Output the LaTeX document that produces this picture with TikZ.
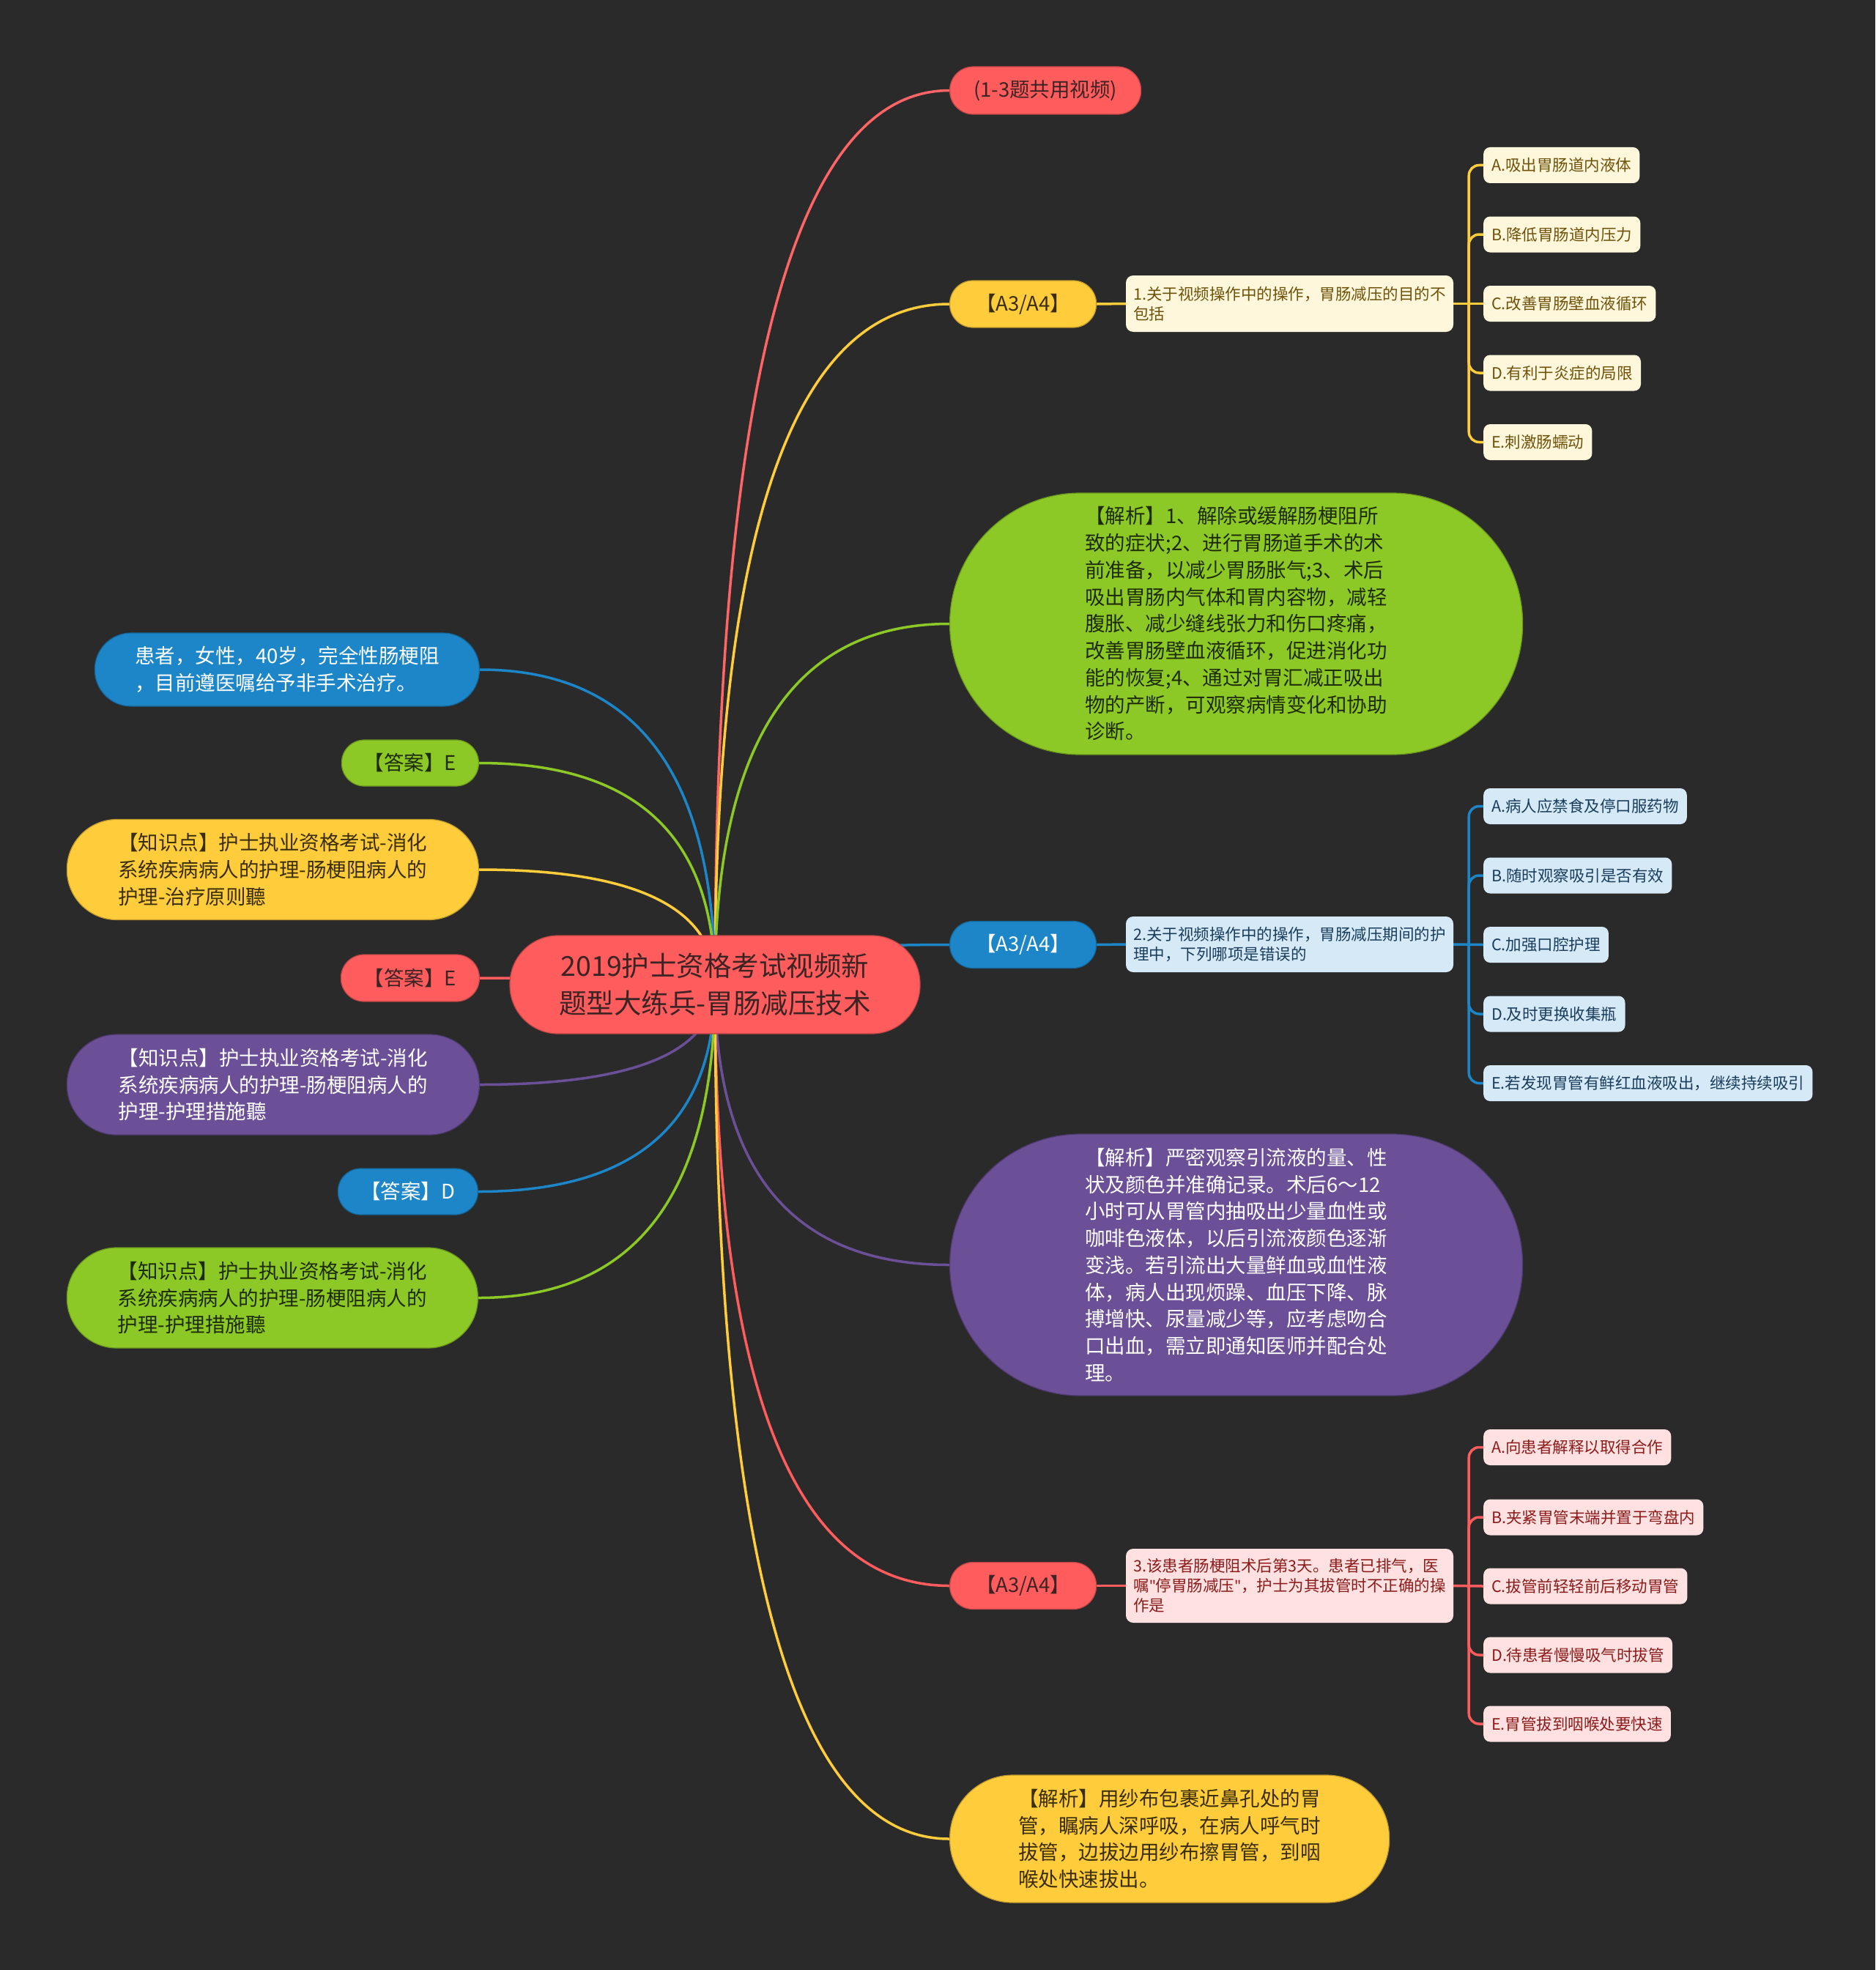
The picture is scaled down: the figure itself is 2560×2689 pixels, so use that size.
\documentclass[tikz,border=0pt]{standalone}
\usepackage{fontspec}
\setmainfont{Noto Sans CJK SC}
\newfontfamily\latinf{Noto Sans}
\usetikzlibrary{calc}
\pgfdeclarelayer{bg}
\pgfdeclarelayer{lines}
\pgfsetlayers{bg,lines,main}
\definecolor{bgc}{HTML}{2A2A2A}
\definecolor{cred}{HTML}{FF5C5E}
\definecolor{cyel}{HTML}{FFCC3B}
\definecolor{cgrn}{HTML}{8DC926}
\definecolor{cblu}{HTML}{1C86C9}
\definecolor{cpur}{HTML}{6B4F97}
\definecolor{lyel}{HTML}{FFF7DB}
\definecolor{lblu}{HTML}{D6E9F6}
\definecolor{lred}{HTML}{FFE1E1}
\definecolor{tred}{HTML}{3D2424}
\definecolor{tyel}{HTML}{3A2D0A}
\definecolor{tgrn}{HTML}{1E2B08}
\definecolor{oyel}{HTML}{6E520A}
\definecolor{oblu}{HTML}{1A3D5C}
\definecolor{ored}{HTML}{8B1C1C}
\tikzset{
  fbig/.style={font=\fontsize{27.5}{36.75}\selectfont},
  fsmall/.style={font=\fontsize{21.5}{27}\selectfont},
  box/.style={inner sep=0pt, align=left},
  redn/.style={fill=cred, draw=cred!75!black, line width=1.2pt, text=tred},
  yeln/.style={fill=cyel, draw=cyel!75!black, line width=1.2pt, text=tyel},
  grnn/.style={fill=cgrn, draw=cgrn!75!black, line width=1.2pt, text=tgrn},
  blun/.style={fill=cblu, draw=cblu!75!black, line width=1.2pt, text=white},
  purn/.style={fill=cpur, draw=cpur!75!black, line width=1.2pt, text=white},
  qbox/.style={box, fsmall, minimum width=447pt, rounded corners=10pt},
  opt/.style={fsmall, inner xsep=11pt, inner ysep=0pt, minimum height=49pt, rounded corners=9pt, anchor=west},
  oy/.style={opt, fill=lyel, text=oyel},
  ob/.style={opt, fill=lblu, text=oblu},
  orr/.style={opt, fill=lred, text=ored},
  mm/.style={line width=3.5pt, to path={.. controls ($(\tikztostart)!0.667!(\tikztostart |- \tikztotarget)$) and ($(\tikztotarget)!0.667!(\tikztostart |- \tikztotarget)$) .. (\tikztotarget)}},
  brk/.style={line width=3.5pt, rounded corners=14pt},
}
\begin{document}
\begin{tikzpicture}[x=1pt, y=-1pt]
\useasboundingbox (0,0) rectangle (2560,2689);
\begin{pgfonlayer}{bg}
\fill[bgc] (0,0) rectangle (2560,2689);
\end{pgfonlayer}

% central topic
\node[box, redn, minimum width=560pt, minimum height=134pt, rounded corners=66pt,
  align=center, font=\fontsize{37.5}{51}\selectfont] (c) at (976,1344)
  {2019护士资格考试视频新\\题型大练兵-胃肠减压技术};

% right side
\node[box, redn, fbig, minimum width=261pt, minimum height=65pt, rounded corners=32pt, anchor=west] (n13) at (1296,123.5) {(1-3题共用视频)};

\node[box, yeln, fbig, minimum width=200pt, minimum height=64pt, rounded corners=31.5pt, anchor=west] (ya) at (1296,415) {【A3/A4】};
\node[qbox, fill=lyel, text=oyel, minimum height=77pt] (q1) at (1760.5,414.5)
  {1.关于视频操作中的操作，胃肠减压的目的不\\包括};
\node[oy] (o1a) at (2025,225.5) {A.吸出胃肠道内液体};
\node[oy] (o1b) at (2025,320) {B.降低胃肠道内压力};
\node[oy] (o1c) at (2025,414.5) {C.改善胃肠壁血液循环};
\node[oy] (o1d) at (2025,509) {D.有利于炎症的局限};
\node[oy] (o1e) at (2025,603.5) {E.刺激肠蠕动};

\node[box, grnn, fbig, minimum width=782pt, minimum height=357pt, rounded corners=178pt, anchor=west] (gj) at (1296,851.5)
  {【解析】1、解除或缓解肠梗阻所\\致的症状;2、进行胃肠道手术的术\\前准备，以减少胃肠胀气;3、术后\\吸出胃肠内气体和胃内容物，减轻\\腹胀、减少缝线张力和伤口疼痛，\\改善胃肠壁血液循环，促进消化功\\能的恢复;4、通过对胃汇减正吸出\\物的产断，可观察病情变化和协助\\诊断。};

\node[box, blun, fbig, minimum width=200pt, minimum height=64pt, rounded corners=31.5pt, anchor=west] (ba) at (1296,1289.5) {【A3/A4】};
\node[qbox, fill=lblu, text=oblu, minimum height=76pt] (q2) at (1760.5,1289)
  {2.关于视频操作中的操作，胃肠减压期间的护\\理中，下列哪项是错误的};
\node[ob] (o2a) at (2025,1100.5) {A.病人应禁食及停口服药物};
\node[ob] (o2b) at (2025,1195) {B.随时观察吸引是否有效};
\node[ob] (o2c) at (2025,1289.5) {C.加强口腔护理};
\node[ob] (o2d) at (2025,1384) {D.及时更换收集瓶};
\node[ob] (o2e) at (2025,1478.5) {E.若发现胃管有鲜红血液吸出，继续持续吸引};

\node[box, purn, fbig, minimum width=782pt, minimum height=357pt, rounded corners=178pt, anchor=west] (pj) at (1296,1726.5)
  {【解析】严密观察引流液的量、性\\状及颜色并准确记录。术后6～12\\小时可从胃管内抽吸出少量血性或\\咖啡色液体，以后引流液颜色逐渐\\变浅。若引流出大量鲜血或血性液\\体，病人出现烦躁、血压下降、脉\\搏增快、尿量减少等，应考虑吻合\\口出血，需立即通知医师并配合处\\理。};

\node[box, redn, fbig, minimum width=200pt, minimum height=64pt, rounded corners=31.5pt, anchor=west] (ra) at (1296,2164.5) {【A3/A4】};
\node[qbox, fill=lred, text=ored, minimum height=101pt] (q3) at (1760.5,2164.5)
  {3.该患者肠梗阻术后第3天。患者已排气，医\\嘱{\latinf"}停胃肠减压{\latinf"}，护士为其拔管时不正确的操\\作是};
\node[orr] (o3a) at (2025,1975.5) {A.向患者解释以取得合作};
\node[orr] (o3b) at (2025,2071) {B.夹紧胃管末端并置于弯盘内};
\node[orr] (o3c) at (2025,2165) {C.拔管前轻轻前后移动胃管};
\node[orr] (o3d) at (2025,2259) {D.待患者慢慢吸气时拔管};
\node[orr] (o3e) at (2025,2353) {E.胃管拔到咽喉处要快速};

\node[box, yeln, fbig, minimum width=600pt, minimum height=174pt, rounded corners=86pt, anchor=west] (yj) at (1296,2510)
  {【解析】用纱布包裹近鼻孔处的胃\\管，瞩病人深呼吸，在病人呼气时\\拔管，边拔边用纱布擦胃管，到咽\\喉处快速拔出。};

% left side
\node[box, blun, fbig, minimum width=525pt, minimum height=100pt, rounded corners=49.5pt, anchor=east] (l1) at (655,914)
  {患者，女性，40岁，完全性肠梗阻\\，目前遵医嘱给予非手术治疗。};
\node[box, grnn, fbig, minimum width=187pt, minimum height=63pt, rounded corners=31pt, anchor=east] (l2) at (654,1041.5) {【答案】E};
\node[box, yeln, fbig, minimum width=562pt, minimum height=137pt, rounded corners=68pt, anchor=east] (l3) at (654,1187)
  {【知识点】护士执业资格考试-消化\\系统疾病病人的护理-肠梗阻病人的\\护理-治疗原则聽};
\node[box, redn, fbig, minimum width=189pt, minimum height=64pt, rounded corners=31.5pt, anchor=east] (l4) at (655,1335) {【答案】E};
\node[box, purn, fbig, minimum width=563pt, minimum height=137pt, rounded corners=68pt, anchor=east] (l5) at (655,1480.5)
  {【知识点】护士执业资格考试-消化\\系统疾病病人的护理-肠梗阻病人的\\护理-护理措施聽};
\node[box, blun, fbig, minimum width=191pt, minimum height=63pt, rounded corners=31pt, anchor=east] (l6) at (653,1626.5) {【答案】D};
\node[box, grnn, fbig, minimum width=561pt, minimum height=137pt, rounded corners=68pt, anchor=east] (l7) at (653,1771.5)
  {【知识点】护士执业资格考试-消化\\系统疾病病人的护理-肠梗阻病人的\\护理-护理措施聽};

\coordinate (j1) at ($(q1.east)+(21,0)$);
\coordinate (j2) at ($(q2.east)+(21,0)$);
\coordinate (j3) at ($(q3.east)+(21,0)$);

\begin{pgfonlayer}{lines}
% main branches
\draw[mm, cred!95!white] (c.center) to (n13.west);
\draw[mm, cyel] (c.center) to (ya.west);
\draw[mm, cgrn] (c.center) to (gj.west);
\draw[mm, cblu] (c.center) to (ba.west);
\draw[mm, cpur] (c.center) to (pj.west);
\draw[mm, cred] (c.center) to (ra.west);
\draw[mm, cyel] (c.center) to (yj.west);
\draw[mm, cblu] (c.center) to (l1.east);
\draw[mm, cgrn] (c.center) to (l2.east);
\draw[mm, cyel] (c.center) to (l3.east);
\draw[mm, cred] (c.center) to (l4.east);
\draw[mm, cpur] (c.center) to (l5.east);
\draw[mm, cblu] (c.center) to (l6.east);
\draw[mm, cgrn] (c.center) to (l7.east);
% sub branches
\draw[line width=3.5pt, cyel] (ya.east) -- (q1.west);
\draw[line width=3.5pt, cblu] (ba.east) -- (q2.west);
\draw[line width=3.5pt, cred] (ra.east) -- (q3.west);
% brackets
\draw[brk, cyel] (q1.east) -- (o1c.west);
\draw[brk, cyel] (j1) |- (o1a.west);
\draw[brk, cyel] (j1) |- (o1b.west);
\draw[brk, cyel] (j1) |- (o1d.west);
\draw[brk, cyel] (j1) |- (o1e.west);
\draw[brk, cblu] (q2.east) -- (o2c.west);
\draw[brk, cblu] (j2) |- (o2a.west);
\draw[brk, cblu] (j2) |- (o2b.west);
\draw[brk, cblu] (j2) |- (o2d.west);
\draw[brk, cblu] (j2) |- (o2e.west);
\draw[brk, cred] (q3.east) -- (o3c.west);
\draw[brk, cred] (j3) |- (o3a.west);
\draw[brk, cred] (j3) |- (o3b.west);
\draw[brk, cred] (j3) |- (o3d.west);
\draw[brk, cred] (j3) |- (o3e.west);
\end{pgfonlayer}
\end{tikzpicture}
\end{document}
